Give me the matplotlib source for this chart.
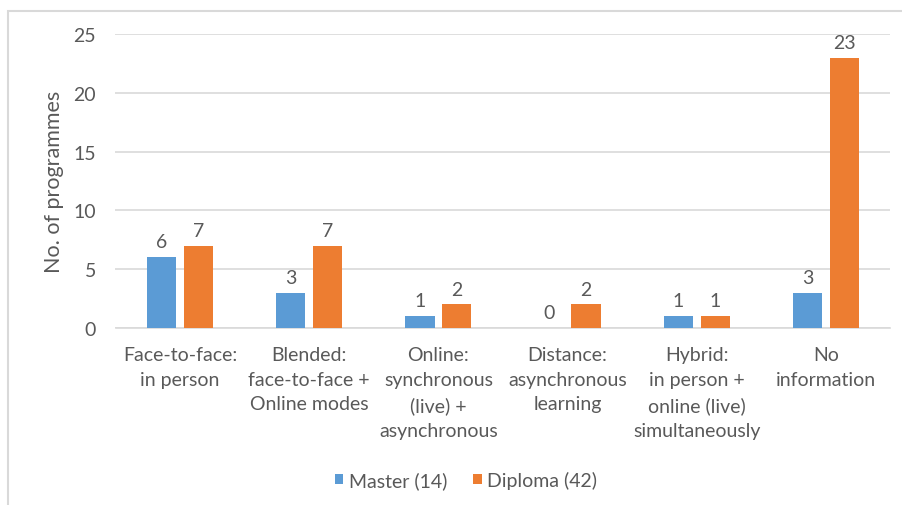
import matplotlib.pyplot as plt
import numpy as np
from matplotlib.patches import Rectangle

categories = ['Face-to-face:\nin person', 'Blended:\nface-to-face +\nOnline modes',
              'Online:\nsynchronous\n(live) +\nasynchronous', 'Distance:\nasynchronous\nlearning',
              'Hybrid:\nin person +\nonline (live)\nsimultaneously', 'No\ninformation']
master = [6, 3, 1, 0, 1, 3]
diploma = [7, 7, 2, 2, 1, 23]
series_names = ['Master (14)', 'Diploma (42)']
yticks = [0, 5, 10, 15, 20, 25]

plt.rcParams['font.family'] = ['Lato', 'DejaVu Sans']
gray = '#595959'
fs = 14

fig = plt.figure(figsize=(9.03, 5.06), dpi=100)
ax = fig.add_axes([115.5 / 903, 1 - 329 / 506, 775 / 903, 294 / 506])

# chart frame border from the screenshot
fig.patches.append(Rectangle((8 / 903, -0.1), 1.1, 1 - 12 / 506 + 0.1, transform=fig.transFigure,
                             fill=False, edgecolor='#d9d9d9', linewidth=1.5))

x = np.arange(len(categories))
w = 0.225
b1 = ax.bar(x - w / 2 - 0.03, master, w, color='#5B9BD5', label=series_names[0], zorder=3)
b2 = ax.bar(x + w / 2 + 0.03, diploma, w, color='#ED7D31', label=series_names[1], zorder=3)
for bars in (b1, b2):
    ax.bar_label(bars, padding=5, color=gray, fontsize=fs)

ax.set_xlim(-0.5, len(categories) - 0.5)
ax.set_ylim(0, 25)
ax.set_yticks(yticks)
ax.yaxis.grid(True, color='#d9d9d9', linewidth=1.2, zorder=0)
ax.set_xticks(x)
ax.set_xticklabels(categories, color=gray, fontsize=fs, linespacing=1.55)
ax.tick_params(axis='y', colors=gray, labelsize=fs, length=0, pad=14)
ax.tick_params(axis='x', length=0, pad=13)
for s in ['top', 'right', 'left']:
    ax.spines[s].set_visible(False)
ax.spines['bottom'].set_color('#d9d9d9')
ax.spines['bottom'].set_linewidth(1.2)
ax.set_ylabel('No. of programmes', color=gray, fontsize=15.5, labelpad=7)

fig.legend(loc='center', bbox_to_anchor=(466 / 903, 1 - 481 / 506), ncol=2, frameon=False,
           fontsize=fs, labelcolor=gray, handlelength=0.45, handleheight=0.45, columnspacing=1.3,
           handletextpad=0.3)

fig.savefig('out.png', dpi=100)
